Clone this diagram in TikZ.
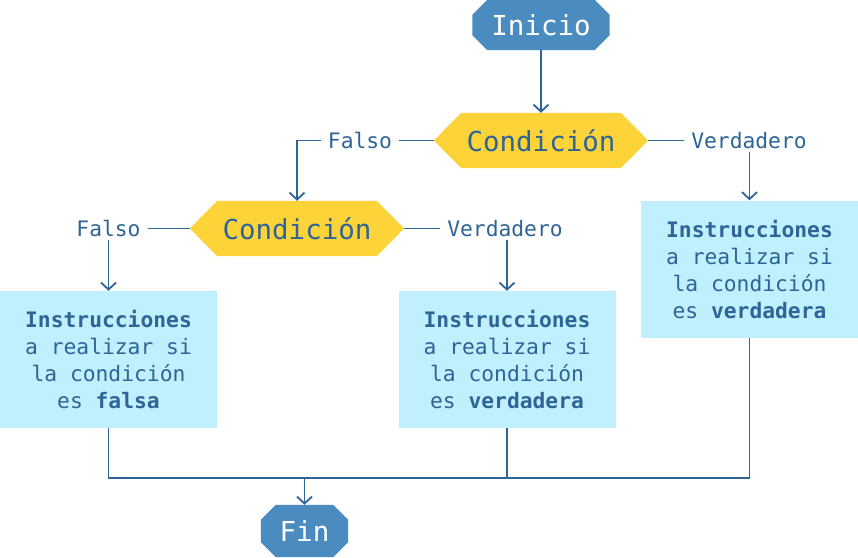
\documentclass[tikz,border=0pt]{standalone}
\usepackage{fontspec}
\setmonofont{DejaVu Sans Mono}
\usetikzlibrary{arrows.meta}
\definecolor{cblue}{RGB}{74,139,192}
\definecolor{cline}{RGB}{46,100,150}
\definecolor{cyell}{RGB}{253,211,58}
\definecolor{ccyan}{RGB}{192,240,253}
\pgfdeclarelayer{background}
\pgfsetlayers{background,main}
\newcommand\octfill[3]{%
  \begin{pgfonlayer}{background}
  \fill[#3] ([xshift=#2]#1.north west) -- ([xshift=-#2]#1.north east)
    -- ([yshift=-#2]#1.north east) -- ([yshift=#2]#1.south east)
    -- ([xshift=-#2]#1.south east) -- ([xshift=#2]#1.south west)
    -- ([yshift=#2]#1.south west) -- ([yshift=-#2]#1.north west) -- cycle;
  \end{pgfonlayer}}
\newcommand\hexfill[2]{%
  \begin{pgfonlayer}{background}
  \fill[cyell] (#1.west) -- ([xshift=#2]#1.north west) -- ([xshift=-#2]#1.north east)
    -- (#1.east) -- ([xshift=-#2]#1.south east) -- ([xshift=#2]#1.south west) -- cycle;
  \end{pgfonlayer}}
\begin{document}
\begin{tikzpicture}[x=1pt,y=-1pt,
  term/.style={rectangle, inner sep=0pt, text=white,
    font=\ttfamily\fontsize{27.5}{33}\selectfont},
  cond/.style={rectangle, inner sep=0pt, minimum width=214pt, minimum height=55pt,
    text=cline, font=\ttfamily\fontsize{27.5}{33}\selectfont},
  instr/.style={rectangle, fill=ccyan, inner sep=0pt, minimum width=217pt,
    minimum height=137pt, align=center, text=cline,
    font=\ttfamily\fontsize{21.3}{27}\selectfont},
  lbl/.style={rectangle, fill=white, inner xsep=7pt, inner ysep=3pt, text=cline,
    font=\ttfamily\fontsize{21.3}{26}\selectfont},
  conn/.style={draw=cline, line width=1.8pt},
  arr/.style={conn, -{Straight Barb[length=7pt,width=15pt]}}]
\useasboundingbox (0,0) rectangle (858,557);

\node[term, minimum width=137pt, minimum height=50pt] (ini) at (541,25) {Inicio};
\octfill{ini}{15pt}{cblue}
\node[term, minimum width=87pt, minimum height=52pt] (fin) at (304.5,531) {Fin};
\octfill{fin}{15pt}{cblue}

\node[cond] (c1) at (541,140.5) {Condición};
\hexfill{c1}{27.5pt}
\node[cond] (c2) at (297,228.5) {Condición};
\hexfill{c2}{27.5pt}

\node[instr] (bl) at (108.5,359.5) {\bfseries Instrucciones\\a realizar si\\la condición\\es \bfseries falsa};
\node[instr] (bm) at (507,359.5) {\bfseries Instrucciones\\a realizar si\\la condición\\es \bfseries verdadera};
\node[instr] (br) at (749.5,269) {\bfseries Instrucciones\\a realizar si\\la condición\\es \bfseries verdadera};

\node[lbl] (f1) at (360,140.5) {Falso};
\node[lbl] (v1) at (749,140.5) {Verdadero};
\node[lbl] (f2) at (108.5,228.5) {Falso};
\node[lbl] (v2) at (505,228.5) {Verdadero};

\draw[arr] (ini.south) -- (c1.north);
\draw[conn] (c1.west) -- (f1);
\draw[arr] (f1.west) -| (c2.north);
\draw[conn] (c1.east) -- (v1);
\draw[arr] (v1.south -| br.north) -- (br.north);
\draw[conn] (c2.west) -- (f2);
\draw[arr] (f2) -- (bl.north);
\draw[conn] (c2.east) -- (v2);
\draw[arr] (v2.south -| bm.north) -- (bm.north);

\coordinate (jl) at (108.5,478);
\coordinate (jr) at (749.5,478);
\draw[conn] (bl.south) -- (jl) -- (jr) -- (br.south);
\draw[conn] (bm.south) -- (bm.south |- jl);
\draw[arr] (fin.north |- jl) -- (fin.north);
\end{tikzpicture}
\end{document}
